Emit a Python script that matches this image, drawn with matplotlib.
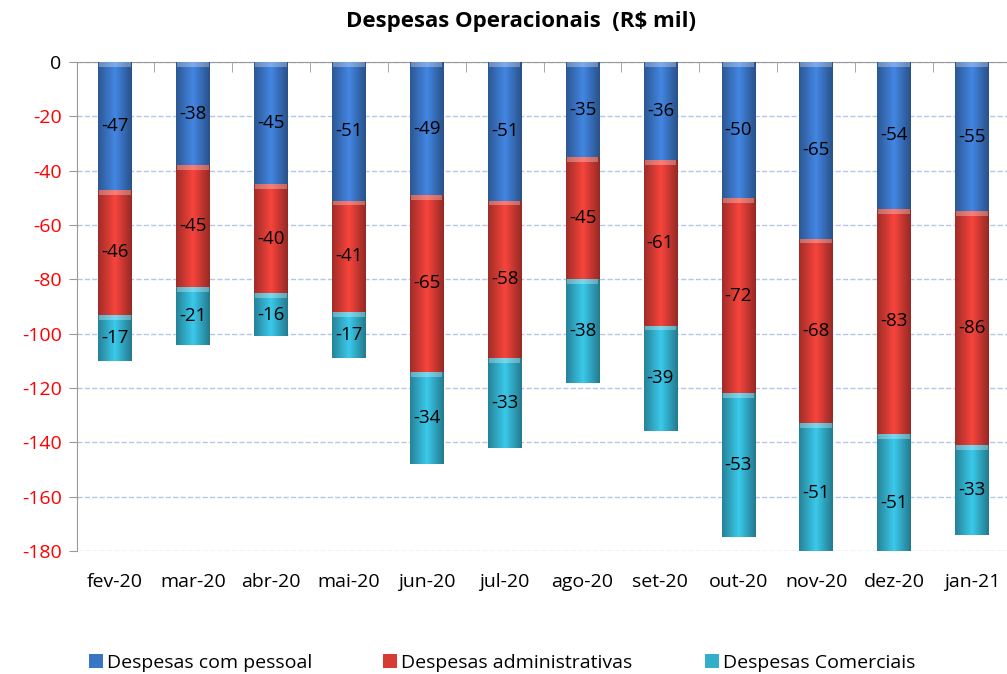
import numpy as np
import matplotlib.pyplot as plt
from matplotlib.patches import Patch, Rectangle

months = ['fev-20', 'mar-20', 'abr-20', 'mai-20', 'jun-20', 'jul-20',
          'ago-20', 'set-20', 'out-20', 'nov-20', 'dez-20', 'jan-21']
pessoal = [-47, -38, -45, -51, -49, -51, -35, -36, -50, -65, -54, -55]
administrativas = [-46, -45, -40, -41, -65, -58, -45, -61, -72, -68, -83, -86]
comerciais = [-17, -21, -16, -17, -34, -33, -38, -39, -53, -51, -51, -33]

series = [
    ('Despesas com pessoal', pessoal, '#3A74C4'),
    ('Despesas administrativas', administrativas, '#D63B34'),
    ('Despesas Comerciais', comerciais, '#33AECB'),
]

plt.rcParams['font.family'] = ['Open Sans', 'DejaVu Sans']

fig = plt.figure(figsize=(10.07, 6.74), dpi=100)
ax = fig.add_axes([77 / 1007, 0.1825, 930 / 1007, 0.7255])

YMIN = -180
x = np.arange(len(months))
width = 0.43
bottom = np.zeros(len(months))

# horizontal shading to mimic the rounded bar look
shade = np.concatenate([np.linspace(0.75, 1.15, 30), np.linspace(1.15, 0.7, 30)])

for name, vals, color in series:
    vals = np.array(vals, dtype=float)
    bars = ax.bar(x, vals, width, bottom=bottom, color=color, label=name,
                  edgecolor='none', zorder=3)
    rgb = np.array(plt.matplotlib.colors.to_rgb(color))
    img = np.clip(shade[:, None] * rgb[None, :], 0, 1)[None, :, :]
    for b in bars:
        x0, y0 = b.get_x(), b.get_y()
        w, h = b.get_width(), b.get_height()
        ytop, ybot = y0, max(y0 + h, YMIN)
        if ybot >= ytop:
            continue
        im = ax.imshow(img, extent=[x0, x0 + w, ybot, ytop], aspect='auto',
                       zorder=3.5, interpolation='bicubic')
        clip = Rectangle((x0, ybot), w, ytop - ybot, transform=ax.transData)
        im.set_clip_path(clip)
        # light band at the top of each segment
        ax.bar(x0 + w / 2, -1.8, w * 0.94, bottom=y0, color='white', alpha=0.3,
               edgecolor='none', zorder=4)
    for xi, v, b0 in zip(x, vals, bottom):
        ax.text(xi, b0 + v / 2, f'{int(v)}', ha='center', va='center',
                fontsize=13.5, color='black', zorder=5)
    bottom += vals

ax.set_ylim(YMIN, 0)
ax.set_xlim(-0.49, 11.45)
ax.set_yticks(np.arange(0, YMIN - 1, -20))
ax.set_yticklabels([str(v) for v in range(0, YMIN - 1, -20)], fontsize=14)
for i, lbl in enumerate(ax.get_yticklabels()):
    lbl.set_color('black' if i == 0 else 'red')

ax.set_xticks(x)
ax.set_xticklabels(months, fontsize=14)
ax.tick_params(axis='x', length=0, pad=16)
ax.set_xticks(np.arange(0.5, 11, 1), minor=True)
ax.tick_params(axis='x', which='minor', direction='in', length=7, color='#999999',
               top=True, bottom=False)
ax.tick_params(axis='y', length=6, color='#999999', pad=5)

ax.grid(axis='y', linestyle='--', color='#B4C7E7', linewidth=1, zorder=0)
ax.spines['bottom'].set_visible(False)
ax.spines['right'].set_visible(False)
ax.spines['top'].set_color('#999999')
ax.spines['left'].set_color('#999999')

fig.text(521 / 1007, 1 - 22 / 674, 'Despesas Operacionais  (R$ mil)', fontsize=16,
         fontweight='bold', ha='center', va='center')

# legend entries placed individually, as in the original
leg_x = [89, 383, 705]
for (name, _, c), lx in zip(series, leg_x):
    fig.legend(handles=[Patch(facecolor=c, label=name)], loc='center left',
               bbox_to_anchor=(lx / 1007, 1 - 663 / 674), frameon=False, fontsize=14,
               handlelength=0.7, handleheight=0.7, handletextpad=0.25,
               borderpad=0, borderaxespad=0)

fig.savefig('out.png', dpi=100)
